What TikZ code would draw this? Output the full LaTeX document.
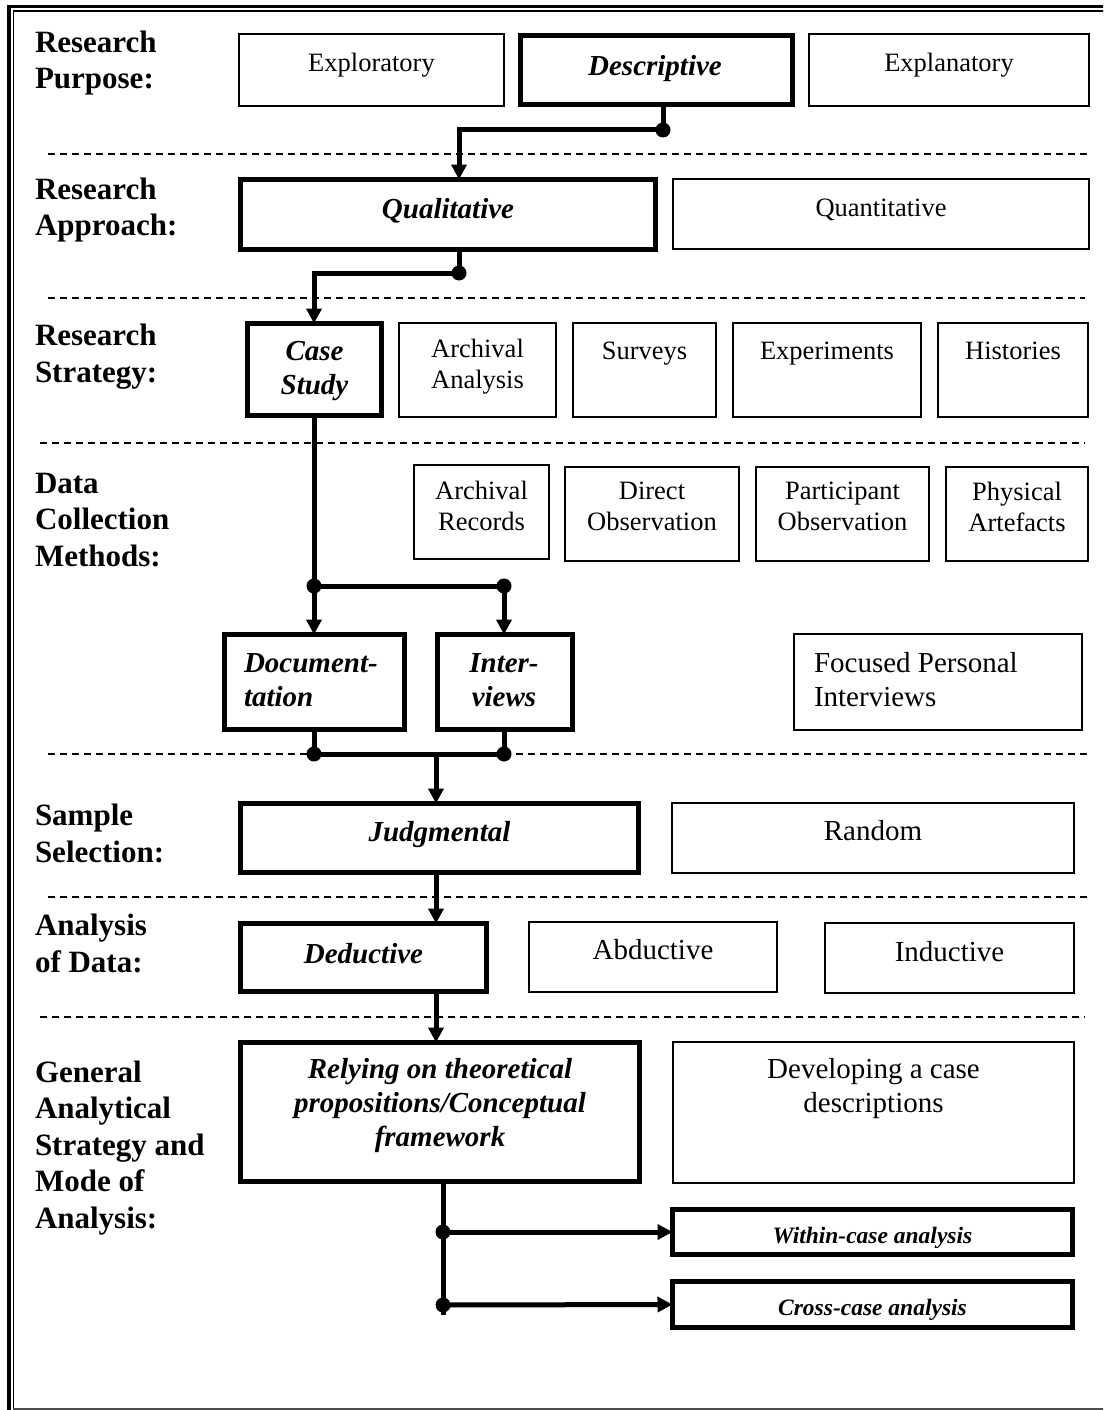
\documentclass[tikz,border=0pt]{standalone}
\usepackage{fontspec}
\setmainfont{Liberation Serif}
\usetikzlibrary{arrows.meta}

% box given by its outer edges: left, top, right, bottom, name
\newcommand{\thinframe}[5]{%
  \node[thinbox, minimum width={#3-#1-1.6}, minimum height={#4-#2-1.6}] (#5) at ({(#1+#3)/2},{(#2+#4)/2}) {};}
\newcommand{\thickframe}[5]{%
  \node[thickbox, minimum width={#3-#1-5}, minimum height={#4-#2-5}] (#5) at ({(#1+#3)/2},{(#2+#4)/2}) {};}

\begin{document}
\begin{tikzpicture}[x=1pt,y=-1pt,
  thinbox/.style={draw, line width=1.6pt, inner sep=0pt, outer sep=0pt},
  thickbox/.style={draw, line width=5pt, inner sep=0pt, outer sep=0pt},
  txtbase/.style={inner sep=0pt, outer sep=0pt, execute at begin node=\strut, execute at end node=\strut},
  rtxt/.style={txtbase, align=center, font=\fontsize{26.5}{31}\selectfont},
  rtxtL/.style={txtbase, align=center, font=\fontsize{29}{34}\selectfont},
  bitxt/.style={txtbase, align=center, font=\bfseries\itshape\fontsize{29}{34}\selectfont},
  smtxt/.style={txtbase, align=center, font=\bfseries\itshape\fontsize{23.5}{27}\selectfont},
  lbl/.style={txtbase, align=left, anchor=west, font=\bfseries\fontsize{31}{36.5}\selectfont},
  sep/.style={line width=1.5pt, dash pattern=on 7pt off 5pt},
  conn/.style={line width=5pt, line join=miter},
  arr/.style={conn, -{Triangle[length=15pt,width=15pt]}},
  dot/.style={fill=black}
]
\useasboundingbox (0,0) rectangle (1103,1410);
\clip (0,0) rectangle (1103,1410);

% outer double frame (cut at the right)
\draw[line width=3.5pt] (1120,6.5) -- (8.75,6.5) -- (8.75,1420);
\draw[line width=1.8pt] (1120,11.25) -- (13.5,11.25) -- (13.5,1420);
\draw[black!70, line width=2pt] (13,1408.5) -- (1110,1408.5);

% dashed separators between the stages
\draw[sep] (48,154) -- (1090,154);
\draw[sep] (48,298) -- (1085,298);
\draw[sep] (40,443) -- (1085,443);
\draw[sep] (48,754) -- (1090,754);
\draw[sep] (48,897) -- (1090,897);
\draw[sep] (40,1017) -- (1085,1017);

% stage labels
\node[lbl] (l-purpose)  at (35,65.3)  {Research\\Purpose:};
\node[lbl] (l-approach) at (35,212)   {Research\\Approach:};
\node[lbl] (l-strategy) at (35,358.5) {Research\\Strategy:};
\node[lbl] (l-data)     at (35,525)   {Data\\Collection\\Methods:};
\node[lbl] (l-sample)   at (35,838.5) {Sample\\Selection:};
\node[lbl] (l-analysis) at (35,948.5) {Analysis\\of Data:};
\node[lbl] (l-general)  at (35,1150)  {General\\Analytical\\Strategy and\\Mode of\\Analysis:};

% research purpose
\thinframe{238}{33}{505}{107}{explo}
\thickframe{518}{33}{795}{107}{descr}
\thinframe{808}{33}{1090}{107}{expla}
\node[rtxt]  (t-explo) at (371.5,65) {Exploratory};
\node[bitxt] (t-descr) at (655,69)   {Descriptive};
\node[rtxt]  (t-expla) at (949,65)   {Explanatory};

% research approach
\thickframe{238}{177}{658}{252}{qual}
\thinframe{672}{178}{1090}{250}{quan}
\node[bitxt] (t-qual) at (448,212) {Qualitative};
\node[rtxt]  (t-quan) at (881,210) {Quantitative};

% research strategy
\thickframe{245}{321}{384}{418}{case}
\thinframe{398}{322}{557}{418}{arch}
\thinframe{572}{322}{717}{418}{surv}
\thinframe{732}{322}{922}{418}{expe}
\thinframe{937}{322}{1089}{418}{hist}
\node[bitxt] (t-case) at (314.5,373) {Case\\Study};
\node[rtxt]  (t-arch) at (477.5,368) {Archival\\Analysis};
\node[rtxt]  (t-surv) at (644.5,353) {Surveys};
\node[rtxt]  (t-expe) at (827,353)   {Experiments};
\node[rtxt]  (t-hist) at (1013,353)  {Histories};

% data collection methods
\thinframe{413}{464}{550}{560}{arec}
\thinframe{564}{466}{740}{562}{dobs}
\thinframe{755}{466}{930}{562}{pobs}
\thinframe{945}{466}{1089}{562}{phys}
\node[rtxt] (t-arec) at (481.5,510) {Archival\\Records};
\node[rtxt] (t-dobs) at (652,511)   {Direct\\Observation};
\node[rtxt] (t-pobs) at (842.5,511) {Participant\\Observation};
\node[rtxt] (t-phys) at (1017,511)  {Physical\\Artefacts};

\thickframe{222}{632}{407}{732}{docu}
\thickframe{435}{632}{575}{732}{intv}
\thinframe{793}{633}{1083}{731}{fpi}
\node[bitxt, align=left, anchor=west] (t-docu) at (244,684.6) {Document-\\tation};
\node[bitxt] (t-intv) at (504,684.6) {Inter-\\views};
\node[rtxtL, align=left, anchor=west] (t-fpi) at (814,685) {Focused Personal\\Interviews};

% sample selection
\thickframe{238}{801}{641}{875}{judg}
\thinframe{671}{802}{1075}{874}{rand}
\node[bitxt] (t-judg) at (439.5,835) {Judgmental};
\node[rtxtL] (t-rand) at (873,834)   {Random};

% analysis of data
\thickframe{238}{921}{489}{994}{dedu}
\thinframe{528}{921}{778}{993}{abdu}
\thinframe{824}{922}{1075}{994}{indu}
\node[bitxt] (t-dedu) at (363.5,956.6) {Deductive};
\node[rtxtL] (t-abdu) at (653,953)     {Abductive};
\node[rtxtL] (t-indu) at (949.5,955)   {Inductive};

% general analytical strategy
\thickframe{238}{1040}{642}{1184}{rely}
\thinframe{672}{1041}{1075}{1184}{devl}
\thickframe{670}{1207}{1075}{1257}{within}
\thickframe{670}{1279}{1075}{1330}{cross}
\node[bitxt] (t-rely) at (440,1107.6) {Relying on theoretical\\propositions/Conceptual\\framework};
\node[rtxtL] (t-devl) at (873.5,1090.5) {Developing a case\\descriptions};
\node[smtxt] (t-within) at (872.5,1238) {Within-case analysis};
\node[smtxt] (t-cross)  at (872.5,1310) {Cross-case analysis};

% junction points of the flow
\coordinate (j1) at (663,130);
\coordinate (j2) at (459,130);
\coordinate (k1) at (459,273);
\coordinate (k2) at (314,273);
\coordinate (s1) at (314,586);
\coordinate (s2) at (504,586);
\coordinate (m1) at (314,754);
\coordinate (m2) at (504,754);
\coordinate (m)  at (436,754);
\coordinate (b1) at (443,1232);
\coordinate (b2) at (443,1305);
\coordinate (bend) at (443,1315);

% connectors
\draw[arr] (descr.south -| j1) -- (j1) -- (j2) -- (qual.north -| j2);
\draw[arr] (qual.south -| k1) -- (k1) -- (k2) -- (case.north -| k2);
\draw[conn] (case.south -| s1) -- (s1) -- (s2);
\draw[arr] (s1) -- (docu.north -| s1);
\draw[arr] (s2) -- (intv.north -| s2);
\draw[conn] (docu.south -| m1) -- (m1) -- (m2) -- (intv.south -| m2);
\draw[arr] (m) -- (judg.north -| m);
\draw[arr] (judg.south -| m) -- (dedu.north -| m);
\draw[arr] (dedu.south -| m) -- (rely.north -| m);
\draw[conn] (rely.south -| b1) -- (bend);
\draw[arr] (b1) -- (within.west);
\draw[arr] (b2) -- (cross.west);

% junction dots
\foreach \p in {j1,k1,s1,s2,m1,m2,b1,b2}
  \fill[dot] (\p) circle[radius=7.5pt];
\end{tikzpicture}
\end{document}
